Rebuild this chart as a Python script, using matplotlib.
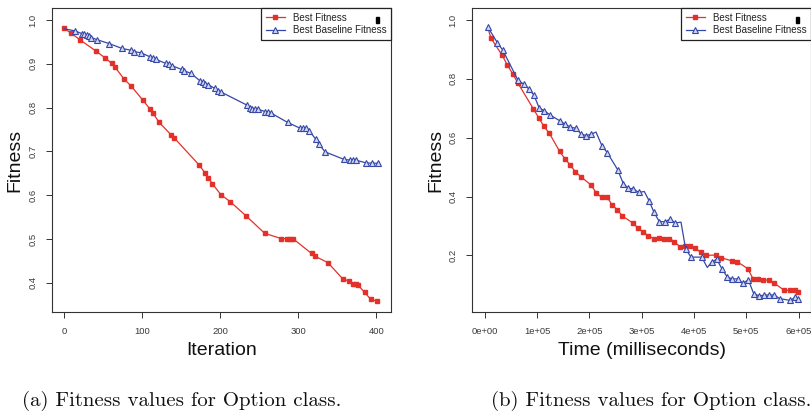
import matplotlib
matplotlib.use("Agg")
import matplotlib.pyplot as plt
from matplotlib.patches import Rectangle

# ---- Panel (a): fitness per iteration ----
iter_best = [0, 9, 21, 41, 53, 61, 65, 77, 86, 101, 110, 114, 122, 137, 141, 173, 181, 185,
             190, 201, 213, 233, 257, 278, 285, 289, 293, 317, 321, 338, 357, 365, 370, 374,
             377, 385, 393, 401]
fit_best_a = [0.981, 0.970, 0.954, 0.929, 0.913, 0.901, 0.893, 0.865, 0.849, 0.817, 0.797,
              0.787, 0.766, 0.738, 0.731, 0.669, 0.650, 0.640, 0.626, 0.601, 0.585, 0.553,
              0.513, 0.501, 0.501, 0.501, 0.501, 0.467, 0.461, 0.446, 0.409, 0.404, 0.398,
              0.397, 0.394, 0.378, 0.362, 0.358]

iter_base = [0, 14.5, 22.6, 26.0, 29.5, 32.4, 35.0, 42.3, 58.1, 74.3, 85.8, 89.7, 98.6, 110.1,
             114.0, 117.8, 130.2, 134.0, 137.9, 150.7, 154.1, 162.7, 174.2, 177.6, 181.0,
             184.9, 193.0, 196.8, 200.6, 233.9, 237.8, 241.2, 245.0, 248.9, 257.4, 260.8,
             264.7, 286.5, 302.3, 306.1, 310.4, 314.2, 322.3, 326.2, 334.3, 358.2, 366.3,
             370.1, 374.0, 386.4, 394.5, 402.6]
fit_base_a = [0.980, 0.975, 0.969, 0.967, 0.965, 0.963, 0.960, 0.955, 0.946, 0.935, 0.931,
              0.928, 0.925, 0.916, 0.914, 0.910, 0.901, 0.899, 0.896, 0.887, 0.884, 0.878,
              0.861, 0.858, 0.855, 0.852, 0.844, 0.839, 0.836, 0.806, 0.799, 0.797, 0.796,
              0.796, 0.791, 0.789, 0.788, 0.766, 0.753, 0.753, 0.753, 0.747, 0.728, 0.717,
              0.699, 0.682, 0.680, 0.680, 0.680, 0.674, 0.673, 0.673]
unmarked_base_a = [0]

# ---- Panel (b): fitness over wall-clock time ----
ms_best = [6300, 12000, 33100, 43300, 53500, 63700, 93000, 103200, 113400, 123600, 143400,
           153500, 163700, 173300, 183500, 203300, 213400, 223700, 233300, 243400, 253500,
           263100, 283000, 293100, 302700, 312800, 323100, 332700, 342800, 353000, 362500,
           372800, 383000, 392500, 402700, 413000, 422600, 442800, 452400, 472800, 483000,
           502900, 513000, 522600, 532700, 543000, 553200, 572900, 583200, 593300, 598500]
fit_best_b = [0.972, 0.938, 0.881, 0.847, 0.817, 0.785, 0.698, 0.668, 0.638, 0.615, 0.553,
              0.528, 0.507, 0.484, 0.468, 0.439, 0.412, 0.397, 0.400, 0.372, 0.355, 0.334,
              0.310, 0.293, 0.279, 0.267, 0.257, 0.259, 0.257, 0.257, 0.247, 0.230, 0.233,
              0.233, 0.225, 0.210, 0.200, 0.201, 0.192, 0.181, 0.178, 0.155, 0.121, 0.118,
              0.117, 0.115, 0.106, 0.081, 0.081, 0.081, 0.075]
unmarked_best_b = [0]

ms_base = [6300, 24100, 34400, 63700, 74600, 84700, 94300, 104400, 114000, 124900, 144000,
           154100, 163700, 174000, 184100, 193700, 203800, 212800, 224300, 234400, 254300,
           265000, 274600, 284100, 294500, 305200, 314200, 323700, 333800, 344700, 354300,
           364400, 375300, 384300, 394500, 414900, 425600, 434000, 443600, 453700, 463900,
           473400, 483700, 493800, 504000, 514300, 523900, 534000, 544200, 553800, 564100,
           583700, 593900, 599600]
fit_base_b = [0.975, 0.923, 0.898, 0.795, 0.782, 0.765, 0.744, 0.700, 0.692, 0.677, 0.657,
              0.645, 0.636, 0.632, 0.613, 0.607, 0.612, 0.619, 0.572, 0.549, 0.491, 0.444,
              0.428, 0.426, 0.414, 0.417, 0.386, 0.346, 0.315, 0.314, 0.323, 0.310, 0.313,
              0.221, 0.194, 0.194, 0.159, 0.177, 0.187, 0.154, 0.126, 0.120, 0.120, 0.105,
              0.117, 0.070, 0.063, 0.064, 0.066, 0.065, 0.053, 0.047, 0.057, 0.053]
unmarked_base_b = [17, 25, 32, 36]

x_ticks_a = [0, 100, 200, 300, 400]
y_ticks_a = [0.4, 0.5, 0.6, 0.7, 0.8, 0.9, 1.0]
x_ticks_b = [0, 100000, 200000, 300000, 400000, 500000, 600000]
x_ticklabels_b = ["0e+00", "1e+05", "2e+05", "3e+05", "4e+05", "5e+05", "6e+05"]
y_ticks_b = [0.2, 0.4, 0.6, 0.8, 1.0]

labels = ["Best Fitness", "Best Baseline Fitness"]
captions = ["(a) Fitness values for Option class.", "(b) Fitness values for Option class."]

RED = "#e3312a"
BLUE = "#3547a8"
SANS = "Liberation Sans"

plt.rcParams["font.family"] = SANS

W, H = 812, 417
fig = plt.figure(figsize=(W / 100, H / 100), dpi=100)
ax1 = fig.add_axes([52 / W, 1 - 312 / H, 339 / W, 304 / H])
ax2 = fig.add_axes([472.3 / W, 1 - 312 / H, 338.7 / W, 304 / H])


def marked(n, skip):
    return [i for i in range(n) if i not in skip]


def draw_series(ax, x1, y1, skip1, x2, y2, skip2):
    h1, = ax.plot(x1, y1, color=RED, lw=0.9, marker="s", ms=3.4, mec=RED, mfc=RED,
                  markevery=marked(len(x1), skip1), label=labels[0])
    h2, = ax.plot(x2, y2, color=BLUE, lw=0.9, marker="^", ms=4.2, mec=BLUE,
                  mfc="#d3d7ef", mew=0.8, markevery=marked(len(x2), skip2), label=labels[1])
    return h1, h2


def style_axes(ax, xlabel, ylabel_x):
    for sp in ax.spines.values():
        sp.set_color("#333333")
        sp.set_linewidth(0.8)
    ax.tick_params(length=4, width=0.7, color="#333333", labelsize=6.8,
                   labelcolor="#3a3a3a", pad=6.5)
    for t in ax.get_yticklabels():
        t.set_rotation(90)
        t.set_va("center")
    ax.set_xlabel(xlabel, fontsize=14, va="center", color="#111111")
    ax.xaxis.set_label_coords(0.5, -38.7 / 304)
    ax.set_ylabel("Fitness", fontsize=14, va="center", color="#111111")
    ax.yaxis.set_label_coords(ylabel_x, 0.5)
    leg = ax.legend(loc="upper right", borderaxespad=0, fontsize=7, frameon=True,
                    fancybox=False, edgecolor="#222222", framealpha=1,
                    handlelength=1.9, handletextpad=0.8, borderpad=0.5, labelspacing=0.25)
    leg.get_frame().set_linewidth(0.9)
    for t in leg.get_texts():
        t.set_color("#222222")
    return leg


# Panel (a)
draw_series(ax1, iter_best, fit_best_a, [], iter_base, fit_base_a, unmarked_base_a)
ax1.set_xlim(-15.4, 418.8)
ax1.set_ylim(0.3333, 1.0274)
ax1.set_xticks(x_ticks_a)
ax1.set_yticks(y_ticks_a)
ax1.set_yticklabels([f"{v:.1f}" for v in y_ticks_a])
style_axes(ax1, "Iteration", (14.5 - 52) / 339)

# Panel (b)
draw_series(ax2, ms_best, fit_best_b, unmarked_best_b, ms_base, fit_base_b, unmarked_base_b)
ax2.set_xlim(-23700, 623900)
ax2.set_ylim(0.0075, 1.0407)
ax2.set_xticks(x_ticks_b)
ax2.set_xticklabels(x_ticklabels_b)
ax2.set_yticks(y_ticks_b)
ax2.set_yticklabels([f"{v:.1f}" for v in y_ticks_b])
style_axes(ax2, "Time (milliseconds)", (435.6 - 472.3) / 338.7)

# small black glyph sitting at the end of the first legend row
for ax, xpx, left, width in ((ax1, 377, 52, 339), (ax2, 797.3, 472.3, 338.7)):
    rect = Rectangle(((xpx - 1.5 - left) / width, (312 - 22.5) / 304), 3 / width, 5 / 304,
                     transform=ax.transAxes, color="black", zorder=10, clip_on=False)
    ax.add_patch(rect)

# Sub-figure captions
fig.text(22 / W, 1 - 401 / H, captions[0], fontsize=15, family="cmr10",
         ha="left", va="center", color="#111111")
fig.text(811 / W, 1 - 401 / H, captions[1], fontsize=15, family="cmr10",
         ha="right", va="center", color="#111111")

fig.savefig("out.png", dpi=100)
